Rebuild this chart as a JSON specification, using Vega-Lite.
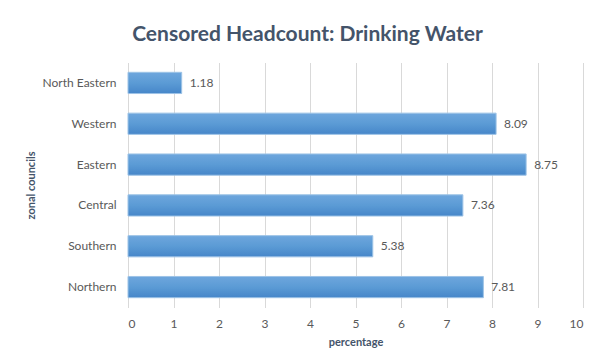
{
  "$schema": "https://vega.github.io/schema/vega-lite/v6.json",
  "width": 455,
  "height": 245,
  "autosize": {"type": "none"},
  "padding": {"left": 128, "top": 62.5, "right": 17, "bottom": 56.5},
  "background": "white",
  "title": {
    "text": "Censored Headcount: Drinking Water",
    "font": "Lato",
    "fontSize": 21,
    "fontWeight": "bold",
    "color": "#44546a",
    "anchor": "middle",
    "dx": -48,
    "offset": 18
  },
  "data": {
    "values": [
      {"council": "North Eastern", "percentage": 1.18},
      {"council": "Western", "percentage": 8.09},
      {"council": "Eastern", "percentage": 8.75},
      {"council": "Central", "percentage": 7.36},
      {"council": "Southern", "percentage": 5.38},
      {"council": "Northern", "percentage": 7.81}
    ]
  },
  "config": {
    "view": {"stroke": null},
    "axis": {
      "labelFont": "Lato",
      "titleFont": "Lato",
      "labelColor": "#595959",
      "titleColor": "#44546a",
      "labelFontSize": 12,
      "titleFontSize": 11,
      "titleFontWeight": "bold"
    }
  },
  "encoding": {
    "y": {
      "field": "council",
      "type": "nominal",
      "sort": null,
      "title": "zonal councils",
      "scale": {"paddingInner": 0.48, "paddingOuter": 0.24},
      "axis": {
        "domain": false,
        "ticks": false,
        "labelPadding": 12,
        "titlePadding": 6
      }
    },
    "x": {
      "field": "percentage",
      "type": "quantitative",
      "title": "percentage",
      "scale": {"domain": [0, 10], "nice": false},
      "axis": {
        "values": [0, 1, 2, 3, 4, 5, 6, 7, 8, 9, 10],
        "domain": false,
        "ticks": false,
        "grid": true,
        "gridColor": "#d9d9d9",
        "labelPadding": 11,
        "titlePadding": 7
      }
    }
  },
  "layer": [
    {
      "mark": {
        "type": "bar",
        "stroke": "#9dc3e6",
        "strokeWidth": 1,
        "color": {
          "gradient": "linear",
          "x1": 0, "y1": 0, "x2": 0, "y2": 1,
          "stops": [
            {"offset": 0, "color": "#6ea6dd"},
            {"offset": 0.5, "color": "#5b9bd5"},
            {"offset": 1, "color": "#4686c9"}
          ]
        }
      }
    },
    {
      "mark": {
        "type": "text",
        "align": "left",
        "dx": 8,
        "font": "Lato",
        "fontSize": 12,
        "color": "#595959"
      },
      "encoding": {
        "text": {"field": "percentage", "type": "quantitative", "format": ".2f"}
      }
    }
  ]
}
